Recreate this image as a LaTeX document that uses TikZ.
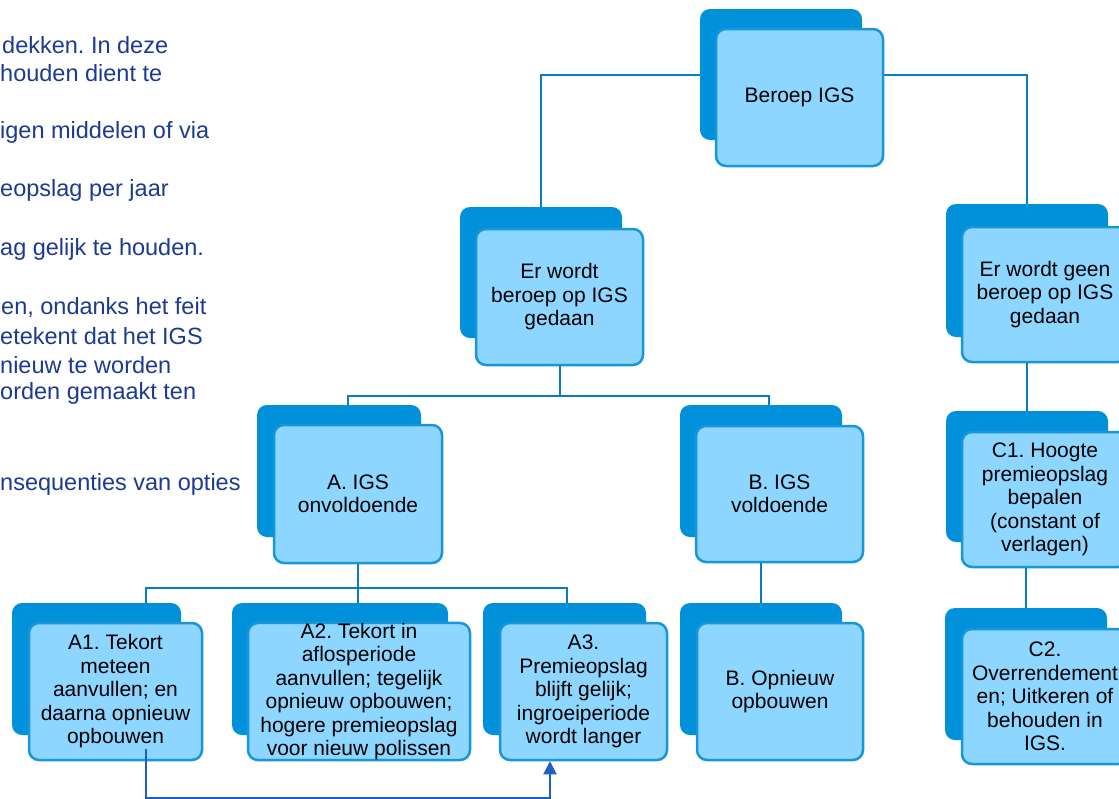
\documentclass[tikz,border=0pt]{standalone}
\usepackage{fontspec}
\setmainfont{Liberation Sans}
\usetikzlibrary{arrows.meta,calc}
\frenchspacing
\definecolor{backblue}{RGB}{0,145,218}
\definecolor{frontblue}{RGB}{140,214,255}
\definecolor{borderblue}{RGB}{24,150,216}
\definecolor{connblue}{RGB}{10,124,194}
\definecolor{arrowblue}{RGB}{31,95,191}
\definecolor{textnavy}{RGB}{28,58,146}
\tikzset{
  backbox/.style={fill=backblue, draw=none, rounded corners=10pt, inner sep=0pt},
  frontbox/.style={fill=frontblue, draw=borderblue, line width=2.5pt, rounded corners=10pt,
    inner sep=0pt, align=center, font=\fontsize{21}{23.5}\selectfont, text=black},
  conn/.style={draw=connblue, line width=2pt},
  arr/.style={draw=arrowblue, line width=2pt, -{Triangle[length=13pt,width=13pt]}},
  sidetext/.style={anchor=west, inner sep=0pt, text=textnavy, font=\fontsize{23.5}{29}\selectfont}
}
\begin{document}
\begin{tikzpicture}[x=1pt,y=-1pt]
\clip (0,0) rectangle (1119,798);
\fill[white] (0,0) rectangle (1119,798);

% left text fragments
\node[sidetext] (t1) at (2,45) {dekken. In deze};
\node[sidetext] (t2) at (0,73) {houden dient te};
\node[sidetext] (t3) at (0,132) {igen middelen of via};
\node[sidetext] (t4) at (0,190) {eopslag per jaar};
\node[sidetext] (t5) at (0,249) {ag gelijk te houden.};
\node[sidetext] (t6) at (1,307) {en, ondanks het feit};
\node[sidetext] (t7) at (0,336) {etekent dat het IGS};
\node[sidetext] (t8) at (0,365) {nieuw te worden};
\node[sidetext] (t9) at (0,393) {orden gemaakt ten};
\node[sidetext] (t10) at (0,484) {nsequenties van opties};

% boxes: back box then front box
\node[backbox, minimum width=162pt, minimum height=131pt] (topb) at (781,74.5) {};
\node[frontbox, minimum width=167pt, minimum height=137pt] (top) at (799.5,97.5) {Beroep IGS};

\node[backbox, minimum width=162pt, minimum height=131pt] (erb) at (541,272.5) {};
\node[frontbox, minimum width=167pt, minimum height=136pt] (er) at (559.5,297) {Er wordt\\beroep op IGS\\gedaan};

\node[backbox, minimum width=164pt, minimum height=132pt] (ab) at (339,471) {};
\node[frontbox, minimum width=168pt, minimum height=138pt] (a) at (358,494) {A. IGS\\onvoldoende};

\node[backbox, minimum width=162pt, minimum height=132pt] (bb) at (761,471) {};
\node[frontbox, minimum width=167pt, minimum height=136pt] (b) at (779.5,494) {B. IGS\\voldoende};

\node[backbox, minimum width=169pt, minimum height=132pt] (a1b) at (96.5,669) {};
\node[frontbox, minimum width=173pt, minimum height=137pt] (a1) at (115.5,691.5) {A1. Tekort\\meteen\\aanvullen; en\\daarna opnieuw\\opbouwen};

\node[backbox, minimum width=216pt, minimum height=132pt] (a2b) at (340,669) {};
\node[frontbox, minimum width=222pt, minimum height=137pt] (a2) at (359,691.5) {A2. Tekort in\\aflosperiode\\aanvullen; tegelijk\\opnieuw opbouwen;\\hogere premieopslag\\voor nieuw polissen};

\node[backbox, minimum width=163pt, minimum height=132pt] (a3b) at (564.5,669) {};
\node[frontbox, minimum width=167pt, minimum height=137pt] (a3) at (583.5,691.5) {A3.\\Premieopslag\\blijft gelijk;\\ingroeiperiode\\wordt langer};

\node[backbox, minimum width=162pt, minimum height=132pt] (b2b) at (761,669) {};
\node[frontbox, minimum width=166pt, minimum height=137pt] (b2) at (780,691.5) {B. Opnieuw\\opbouwen};

\node[backbox, minimum width=162pt, minimum height=133pt] (c0b) at (1027,270.5) {};
\node[frontbox, minimum width=166pt, minimum height=135pt] (c0) at (1045,294.5) {Er wordt geen\\beroep op IGS\\gedaan};

\node[backbox, minimum width=162pt, minimum height=131pt] (c1b) at (1027,476.5) {};
\node[frontbox, minimum width=166pt, minimum height=135pt] (c1) at (1045,499.5) {C1. Hoogte\\premieopslag\\bepalen\\(constant of\\verlagen)};

\node[backbox, minimum width=162pt, minimum height=132pt] (c2b) at (1026,674) {};
\node[frontbox, minimum width=166pt, minimum height=135pt] (c2) at (1045,696.5) {C2.\\Overrendement\\en; Uitkeren of\\behouden in\\IGS.};

% connectors
\draw[conn] (topb.west) -| (erb.north);
\draw[conn] (top.east |- topb.west) -| (c0b.north);
\draw[conn] (er.south) -- ++(0,30) -| ($(ab.north)+(9,0)$);
\draw[conn] (er.south) -- ++(0,30) -| ($(bb.north)+(8,0)$);
\draw[conn] (a.south) -- ++(0,24) -| ($(a1b.north)+(49.5,0)$);
\draw[conn] (a.south) -- (a.south |- a2b.north);
\draw[conn] (a.south) -- ++(0,24) -| ($(a3b.north)+(2.5,0)$);
\draw[conn] (b2b.north |- b.south) -- (b2b.north);
\draw[conn] (c1b.north |- c0.south) -- (c1b.north);
\draw[conn] (c2b.north |- c1.south) -- (c2b.north);

% arrow A1 -> A3
\draw[arr] ($(a1.south)+(30.5,-12)$) -- ++(0,49) -| ($(a3.south)+(-33.5,0)$);
\end{tikzpicture}
\end{document}
